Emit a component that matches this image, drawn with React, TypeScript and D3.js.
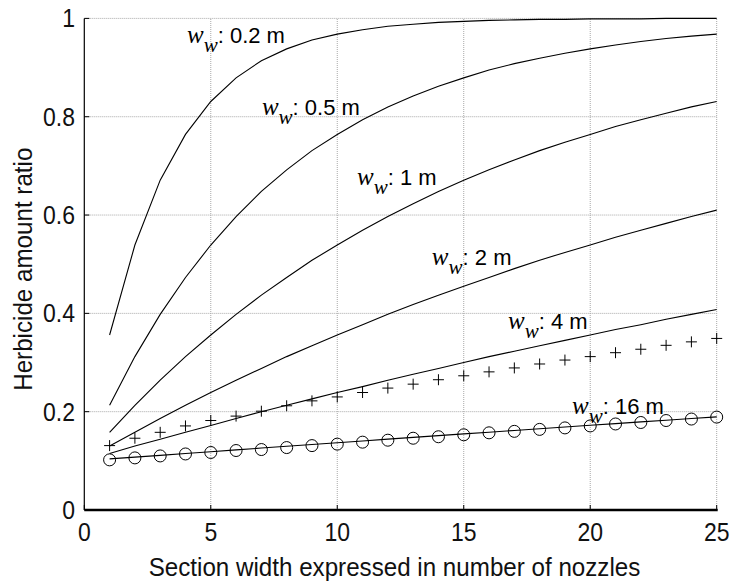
import React from "react";
import * as d3 from "d3";

// ---- data ----
const nozzles = [1, 2, 3, 4, 5, 6, 7, 8, 9, 10, 11, 12, 13, 14, 15, 16, 17, 18, 19, 20, 21, 22, 23, 24, 25];
const ww02 = [0.356, 0.539, 0.671, 0.764, 0.831, 0.879, 0.914, 0.938, 0.956, 0.968, 0.977, 0.984, 0.988, 0.992, 0.994, 0.996, 0.997, 0.998, 0.998, 0.999, 0.999, 0.999, 1.0, 1.0, 1.0];
const ww05 = [0.213, 0.312, 0.398, 0.473, 0.539, 0.597, 0.648, 0.692, 0.731, 0.764, 0.794, 0.82, 0.842, 0.862, 0.879, 0.895, 0.908, 0.919, 0.929, 0.938, 0.946, 0.953, 0.959, 0.964, 0.968];
const ww1 = [0.158, 0.213, 0.264, 0.312, 0.356, 0.398, 0.437, 0.473, 0.508, 0.539, 0.569, 0.597, 0.623, 0.648, 0.671, 0.692, 0.712, 0.731, 0.748, 0.764, 0.78, 0.794, 0.807, 0.82, 0.831];
const ww2 = [0.13, 0.158, 0.186, 0.213, 0.239, 0.264, 0.288, 0.312, 0.334, 0.356, 0.377, 0.398, 0.418, 0.437, 0.455, 0.473, 0.491, 0.508, 0.524, 0.539, 0.555, 0.569, 0.583, 0.597, 0.61];
const ww4 = [0.115, 0.13, 0.144, 0.158, 0.172, 0.186, 0.2, 0.213, 0.226, 0.239, 0.251, 0.264, 0.276, 0.288, 0.3, 0.312, 0.323, 0.334, 0.345, 0.356, 0.367, 0.377, 0.388, 0.398, 0.408];
const ww16 = [0.104, 0.1075, 0.1112, 0.1149, 0.1186, 0.1223, 0.126, 0.1297, 0.1333, 0.1369, 0.1405, 0.1441, 0.1477, 0.1512, 0.1548, 0.1583, 0.1618, 0.1653, 0.1688, 0.1723, 0.1758, 0.1792, 0.1826, 0.1861, 0.1895];
const plusSeries = [0.131, 0.146, 0.158, 0.171, 0.182, 0.191, 0.201, 0.212, 0.222, 0.23, 0.239, 0.248, 0.256, 0.265, 0.273, 0.281, 0.289, 0.297, 0.305, 0.312, 0.32, 0.327, 0.335, 0.342, 0.349];
const circleSeries = [0.102, 0.106, 0.11, 0.114, 0.117, 0.121, 0.123, 0.127, 0.131, 0.134, 0.138, 0.142, 0.146, 0.149, 0.153, 0.157, 0.16, 0.164, 0.167, 0.171, 0.175, 0.178, 0.182, 0.185, 0.189];

const curveLabels = ["0.2 m", "0.5 m", "1 m", "2 m", "4 m", "16 m"];
const xTicks = [0, 5, 10, 15, 20, 25];
const xTickLabels = ["0", "5", "10", "15", "20", "25"];
const yTicks = [0, 0.2, 0.4, 0.6, 0.8, 1];
const yTickLabels = ["0", "0.2", "0.4", "0.6", "0.8", "1"];
const xTitle = "Section width expressed in number of nozzles";
const yTitle = "Herbicide amount ratio";

// label anchors in data units (layout)
const labelAnchors: [number, number][] = [
  [4.06, 0.95],
  [7.02, 0.803],
  [10.78, 0.661],
  [13.74, 0.498],
  [16.75, 0.368],
  [19.28, 0.195],
];

const W = 730;
const H = 584;
const SANS = "'Liberation Sans', Arial, Helvetica, sans-serif";
const SERIF = "'Liberation Serif', 'Times New Roman', serif";

export default function App() {
  const x = d3.scaleLinear().domain([0, 25]).range([84.3, 716.7]);
  const y = d3.scaleLinear().domain([0, 1]).range([510, 18.4]);
  const line = d3
    .line<number>()
    .x((_, i) => x(nozzles[i]))
    .y((d) => y(d));
  const curves = [ww02, ww05, ww1, ww2, ww4, ww16];

  return (
    <svg
      width={W}
      height={H}
      style={{ position: "absolute", left: 0, top: 0, background: "#fff" }}
      fontFamily={SANS}
    >
      <rect x={0} y={0} width={W} height={H} fill="#fff" />
      {/* grid */}
      {yTicks.filter((t) => t > 0).map((t) => (
        <line key={"gy" + t} x1={x(0)} x2={x(25)} y1={y(t)} y2={y(t)} stroke="#a8a8a8" strokeWidth={1} strokeDasharray="1 1" />
      ))}
      {xTicks.filter((t) => t > 0).map((t) => (
        <line key={"gx" + t} x1={x(t)} x2={x(t)} y1={y(0)} y2={y(1)} stroke="#a8a8a8" strokeWidth={1} strokeDasharray="1 1" />
      ))}
      {/* axes */}
      <line x1={x(0)} x2={x(0)} y1={y(0)} y2={y(1)} stroke="#000" strokeWidth={1.2} />
      <line x1={x(0)} x2={x(25) + 1} y1={y(0)} y2={y(0)} stroke="#000" strokeWidth={2.5} />
      {yTicks.map((t) => (
        <line key={"ty" + t} x1={x(0)} x2={x(0) + 5} y1={y(t)} y2={y(t)} stroke="#000" strokeWidth={1} />
      ))}
      {xTicks.map((t) => (
        <line key={"tx" + t} x1={x(t)} x2={x(t)} y1={y(0)} y2={y(0) - 5} stroke="#000" strokeWidth={1} />
      ))}
      {/* tick labels */}
      {yTicks.map((t, i) => (
        <text key={"ly" + t} transform={`translate(75,${y(t) + 9}) scale(0.92,1)`} textAnchor="end" fontSize={25} fill="#111">
          {yTickLabels[i]}
        </text>
      ))}
      {xTicks.map((t, i) => (
        <text key={"lx" + t} transform={`translate(${x(t)},541) scale(0.92,1)`} textAnchor="middle" fontSize={25} fill="#111">
          {xTickLabels[i]}
        </text>
      ))}
      {/* axis titles */}
      <text transform={`translate(${(x(0) + x(25)) / 2 - 6},576) scale(0.93,1)`} textAnchor="middle" fontSize={26} fill="#111">
        {xTitle}
      </text>
      <text
        transform={`translate(32,${(y(0) + y(1)) / 2 + 5}) rotate(-90) scale(0.93,1)`}
        textAnchor="middle"
        fontSize={26}
        fill="#111"
      >
        {yTitle}
      </text>
      {/* curves */}
      {curves.map((c, i) => (
        <path key={"c" + i} d={line(c) || ""} fill="none" stroke="#000" strokeWidth={1.1} />
      ))}
      {/* plus markers */}
      {plusSeries.map((v, i) => {
        const cx = x(nozzles[i]);
        const cy = y(v);
        return (
          <path key={"p" + i} d={`M${cx - 5.5},${cy}H${cx + 5.5}M${cx},${cy - 5.5}V${cy + 5.5}`} stroke="#000" strokeWidth={1} fill="none" />
        );
      })}
      {/* circle markers */}
      {circleSeries.map((v, i) => (
        <circle key={"o" + i} cx={x(nozzles[i])} cy={y(v)} r={6} fill="none" stroke="#000" strokeWidth={1} />
      ))}
      {/* curve labels */}
      {curveLabels.map((lab, i) => {
        const [ax, ay] = labelAnchors[i];
        return (
          <text key={"cl" + i} x={x(ax)} y={y(ay)} fill="#000">
            <tspan fontFamily={SERIF} fontStyle="italic" fontSize={25}>w</tspan>
            <tspan fontFamily={SERIF} fontStyle="italic" fontSize={21} dy={9}>w</tspan>
            <tspan fontFamily={SANS} fontSize={22} dy={-9}>{": " + lab}</tspan>
          </text>
        );
      })}
    </svg>
  );
}
